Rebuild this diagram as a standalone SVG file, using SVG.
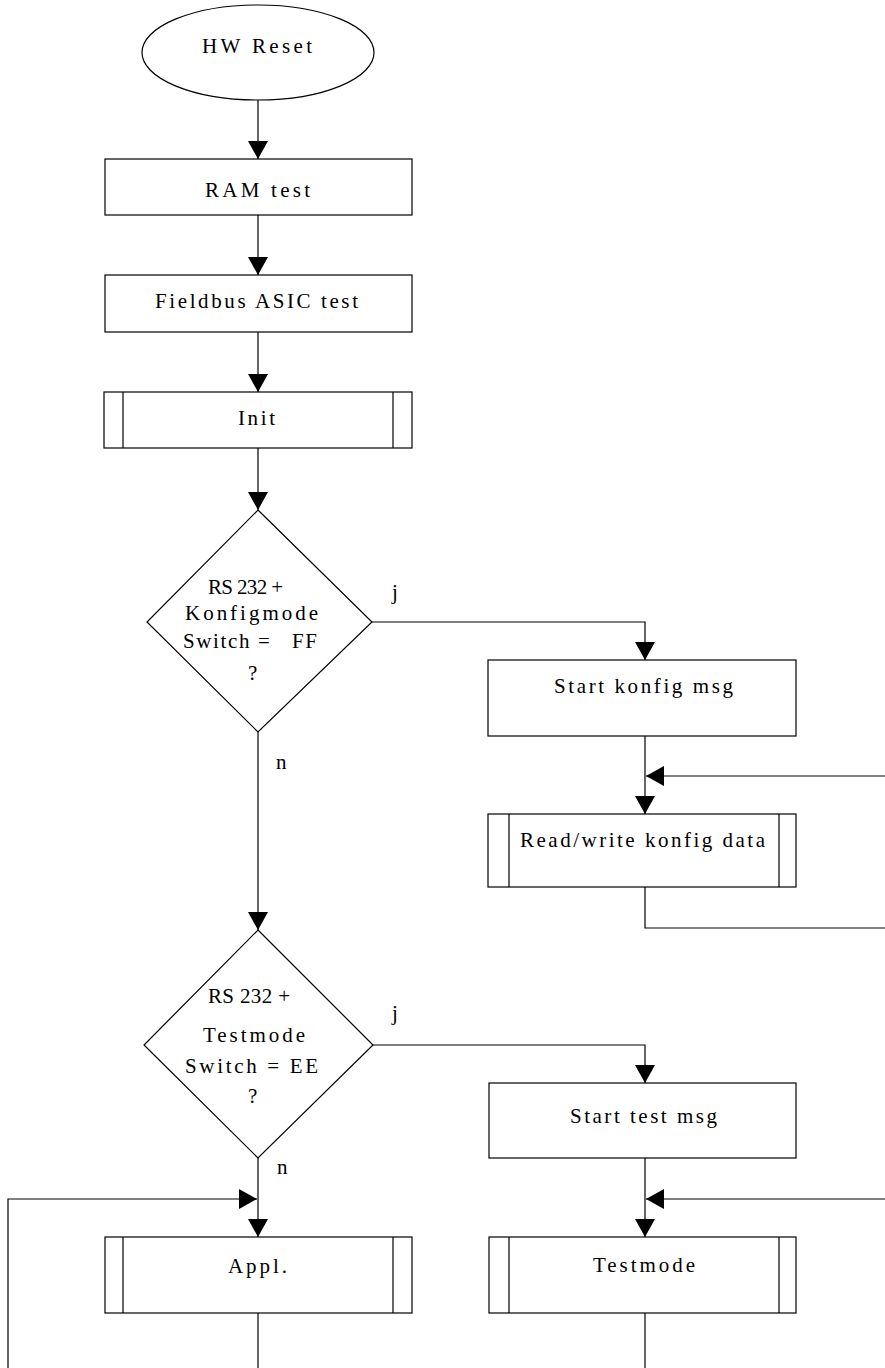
<svg xmlns="http://www.w3.org/2000/svg" width="885" height="1368" viewBox="0 0 885 1368">
<defs>
<marker id="arr" viewBox="0 0 18 20" refX="18" refY="10" markerWidth="18" markerHeight="20" markerUnits="userSpaceOnUse" orient="auto">
<path d="M0,0 L18,10 L0,20 z" fill="#000"/>
</marker>
</defs>
<style>
.s{fill:#fff;stroke:#000;stroke-width:1.2}
.l{fill:none;stroke:#000;stroke-width:1.2}
.c{fill:none;stroke:#000;stroke-width:1.2;marker-end:url(#arr)}
text{font-family:"Liberation Serif","Times New Roman",serif;font-size:21px;fill:#000;white-space:pre}
</style>
<rect width="885" height="1368" fill="#fff"/>
<g id="connectors">
<path class="c" d="M258,100 V159"/>
<path class="c" d="M258,215 V275"/>
<path class="c" d="M258,332 V392"/>
<path class="c" d="M258,448 V510"/>
<path class="c" d="M372,622 H645 V660"/>
<path class="c" d="M645,736 V814"/>
<path class="l" d="M645,887 V928 H890"/>
<path class="c" d="M890,776 H646"/>
<path class="c" d="M258,732 V930"/>
<path class="c" d="M373,1045 H645 V1083"/>
<path class="c" d="M645,1158 V1237"/>
<path class="c" d="M890,1199 H646"/>
<path class="l" d="M645,1313 V1368"/>
<path class="c" d="M258,1158 V1237"/>
<path class="c" d="M8,1368 V1199 H257"/>
<path class="l" d="M258,1313 V1368"/>
<text x="392" y="599">j</text>
<text x="276" y="769">n</text>
<text x="392" y="1020">j</text>
<text x="277" y="1174">n</text>
</g>
<g id="hwreset">
<ellipse class="s" cx="258" cy="52.5" rx="116" ry="47.5"/>
<text x="202" y="53" textLength="110" lengthAdjust="spacing">HW Reset</text>
</g>
<g id="ramtest">
<rect class="s" x="105" y="159" width="307" height="56"/>
<text x="205" y="197" textLength="105" lengthAdjust="spacing">RAM test</text>
</g>
<g id="asictest">
<rect class="s" x="105" y="275" width="307" height="57"/>
<text x="155" y="308" textLength="203" lengthAdjust="spacing">Fieldbus ASIC test</text>
</g>
<g id="init">
<rect class="s" x="104" y="392" width="308" height="56"/>
<path class="l" d="M123,392 V448 M393,392 V448"/>
<text x="238" y="425" textLength="37" lengthAdjust="spacing">Init</text>
</g>
<g id="konfigdecision">
<polygon class="s" points="258,510 372,622 258,732 147,622"/>
<text x="208" y="594" textLength="75" lengthAdjust="spacing">RS 232 +</text>
<text x="185" y="620" textLength="133" lengthAdjust="spacing">Konfigmode</text>
<text x="183" y="648" textLength="134" lengthAdjust="spacing">Switch =   FF</text>
<text x="248" y="680" textLength="9" lengthAdjust="spacing">?</text>
</g>
<g id="startkonfig">
<rect class="s" x="488" y="660" width="308" height="76"/>
<text x="554" y="693" textLength="179" lengthAdjust="spacing">Start konfig msg</text>
</g>
<g id="rwkonfig">
<rect class="s" x="488" y="814" width="308" height="73"/>
<path class="l" d="M509,814 V887 M779,814 V887"/>
<text x="520" y="847" textLength="245" lengthAdjust="spacing">Read/write konfig data</text>
</g>
<g id="testdecision">
<polygon class="s" points="258,930 373,1045 258,1158 144,1045"/>
<text x="208" y="1003" textLength="82" lengthAdjust="spacing">RS 232 +</text>
<text x="203" y="1042" textLength="102" lengthAdjust="spacing">Testmode</text>
<text x="185" y="1073" textLength="133" lengthAdjust="spacing">Switch = EE</text>
<text x="248" y="1103" textLength="9" lengthAdjust="spacing">?</text>
</g>
<g id="starttest">
<rect class="s" x="489" y="1083" width="307" height="75"/>
<text x="570" y="1123" textLength="147" lengthAdjust="spacing">Start test msg</text>
</g>
<g id="appl">
<rect class="s" x="105" y="1237" width="307" height="76"/>
<path class="l" d="M123,1237 V1313 M393,1237 V1313"/>
<text x="228" y="1273" textLength="59" lengthAdjust="spacing">Appl.</text>
</g>
<g id="testmode">
<rect class="s" x="489" y="1237" width="307" height="76"/>
<path class="l" d="M509,1237 V1313 M779,1237 V1313"/>
<text x="593" y="1272" textLength="102" lengthAdjust="spacing">Testmode</text>
</g>
</svg>
